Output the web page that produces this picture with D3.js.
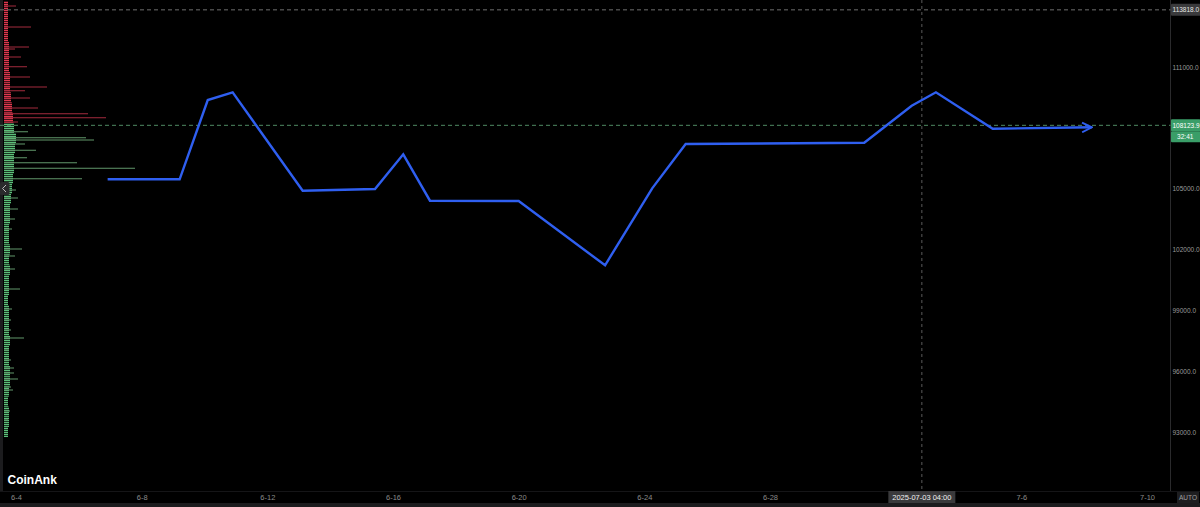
<!DOCTYPE html>
<html>
<head>
<meta charset="utf-8">
<script src="https://cdn.jsdelivr.net/npm/d3@7"></script>
<style>
html,body{margin:0;padding:0;background:#000;}
svg{display:block;}
text{font-family:"Liberation Sans",Arial,sans-serif;}
</style>
</head>
<body>
<svg id="chart" width="1200" height="507"></svg>
<script>
// ---- DATA ----
const lineDates = ["2025-06-06T22:00Z","2025-06-09T05:00Z","2025-06-10T02:30Z","2025-06-10T21:30Z","2025-06-13T03:00Z","2025-06-15T10:15Z","2025-06-16T07:50Z","2025-06-17T04:15Z","2025-06-20T00:00Z","2025-06-22T18:00Z","2025-06-24T06:00Z","2025-06-25T07:35Z","2025-07-01T00:00Z","2025-07-02T12:15Z","2025-07-03T06:45Z","2025-07-05T02:10Z","2025-07-08T05:45Z"];
const lineValues = [105462,105462,109373,109752,104900,104983,106695,104407,104392,101221,105018,107203,107267,109092,109752,107957,108026];

const yTickValues = [93000,96000,99000,102000,105000,111000];
const xTickDates = ["2025-06-04","2025-06-08","2025-06-12","2025-06-16","2025-06-20","2025-06-24","2025-06-28","2025-07-06","2025-07-10"];

const currentPrice = 108123.9;
const countdownLabel = "32:41";
const crosshairPrice = 113818.0;
const crosshairDate = "2025-07-02T20:00Z";
const crosshairLabel = "2025-07-03 04:00";
const brand = "CoinAnk";

// volume profile: notable levels (price, volume units)
const profilePrices = [114008,112972,111986,111887,111493,111015,110507,110014,109831,109471,108978,108697,108500,108288,
  107809,107513,107400,107203,106892,106527,106280,106004,105491,104934,104540,103997,103504,103011,102025,101680,101038,100052,99066,98523,98030,97636,97044,96551,96156,95910,95614,95219,95071,94036,93592];
const profileVolumes = [12,27,25,11,17,23,26,43,21,26,34,84,102,14,
  24,82,90,21,32,23,73,131,78,12,14,14,11,8,18,11,11,16,8,7,7,20,5,7,10,10,14,7,9,6,4];
// dense base profile by 500-USD bins
const basePrices = [93000,93500,94000,94500,95000,95500,96000,96500,97000,97500,98000,98500,99000,99500,100000,100500,101000,101500,102000,102500,103000,103500,104000,104500,105000,105500,106000,106500,107000,107500,108000,108500,109000,109500,110000,110500,111000,111500,112000,112500,113000,113500,114000];
const baseVolumes = [4,5,5,4,5,6,6,5,5,6,5,5,5,4,5,5,6,5,6,5,5,6,6,7,8,9,10,10,11,12,10,9,8,7,6,6,5,5,5,4,4,4,4];

// ---- CHART ----
const svg = d3.select("#chart");
const W = 1200, H = 507;
const plotRight = 1170.5, plotBottom = 491;

svg.append("rect").attr("width",W).attr("height",H).attr("fill","#000");

const x = d3.scaleUtc().domain([new Date("2025-06-04T00:00Z"), new Date("2025-07-10T00:00Z")]).range([16,1147]);
const y = d3.scaleLinear().domain([93000,111000]).range([432,67]);

// stripe pattern for dense profile
const defs = svg.append("defs");
function stripe(id,color){
  const p = defs.append("pattern").attr("id",id).attr("patternUnits","userSpaceOnUse").attr("width",4).attr("height",2);
  p.append("rect").attr("width",4).attr("height",1.3).attr("fill",color);
}
stripe("redStripe","#e0384f");
stripe("greenStripe","#5bbf78");
defs.append("marker").attr("id","arrow").attr("viewBox","0 0 10 10").attr("refX",9).attr("refY",5)
  .attr("markerWidth",5).attr("markerHeight",5).attr("markerUnits","strokeWidth").attr("orient","auto")
  .append("path").attr("d","M1,1 L9,5 L1,9").attr("fill","none").attr("stroke","#2f5ff0").attr("stroke-width",1.6);

// left strip
svg.append("rect").attr("x",0).attr("y",0).attr("width",3).attr("height",plotBottom).attr("fill","#1c1c1e");

// volume profile
const vx = d3.scaleLinear().domain([0,131]).range([4,135]);
const binH = Math.abs(y(500)-y(0));
svg.append("g").selectAll("rect").data(basePrices).join("rect")
  .attr("x",4)
  .attr("y",(d)=>y(d)-binH/2)
  .attr("width",(d,i)=>vx(baseVolumes[i])-4)
  .attr("height",binH)
  .attr("fill",(d)=> d > currentPrice ? "url(#redStripe)" : "url(#greenStripe)");
svg.append("g").selectAll("rect").data(profilePrices).join("rect")
  .attr("x",4)
  .attr("y",(d)=>y(d)-0.6)
  .attr("width",(d,i)=>vx(profileVolumes[i])-4)
  .attr("height",1.2)
  .attr("fill",(d)=> d > currentPrice ? "#a02a3c" : "#5f9468")
  .attr("opacity",0.85);

// vertical separator (price axis)
svg.append("line").attr("x1",plotRight).attr("x2",plotRight).attr("y1",0).attr("y2",plotBottom)
  .attr("stroke","#2a2a2c").attr("stroke-width",1);

// bottom axis band
svg.append("line").attr("x1",0).attr("x2",W).attr("y1",plotBottom+0.5).attr("y2",plotBottom+0.5).attr("stroke","#151517");
svg.append("rect").attr("x",0).attr("y",503).attr("width",W).attr("height",4).attr("fill","#1c1c1e");

// crosshair
svg.append("line").attr("x1",x(new Date(crosshairDate))).attr("x2",x(new Date(crosshairDate)))
  .attr("y1",0).attr("y2",plotBottom).attr("stroke","#5a5a5a").attr("stroke-dasharray","3,3");
svg.append("line").attr("x1",0).attr("x2",plotRight).attr("y1",y(crosshairPrice)).attr("y2",y(crosshairPrice))
  .attr("stroke","#707070").attr("stroke-dasharray","4,3");
// current price line
svg.append("line").attr("x1",0).attr("x2",plotRight).attr("y1",y(currentPrice)).attr("y2",y(currentPrice))
  .attr("stroke","#4f8a62").attr("stroke-dasharray","4,3");

// price line
const pts = lineDates.map((d,i)=>({date:new Date(d), v:lineValues[i]}));
svg.append("path").datum(pts)
  .attr("d", d3.line().x(d=>x(d.date)).y(d=>y(d.v)))
  .attr("fill","none").attr("stroke","#2f5ff0").attr("stroke-width",2.4)
  .attr("stroke-linejoin","miter").attr("marker-end","url(#arrow)");

// y axis
const yAxis = svg.append("g").attr("transform",`translate(${plotRight+1},0)`)
  .call(d3.axisRight(y).tickValues(yTickValues).tickFormat(d3.format(".1f")).tickSize(0).tickPadding(1));
yAxis.select(".domain").remove();
yAxis.selectAll("text").attr("fill","#9a9a9a").attr("font-size","6.5px").attr("font-family","Liberation Sans, Arial, sans-serif");

// x axis
const xAxis = svg.append("g").attr("transform",`translate(0,${plotBottom})`)
  .call(d3.axisBottom(x).tickValues(xTickDates.map(d=>new Date(d+"T00:00Z"))).tickFormat(d3.utcFormat("%-m-%-d")).tickSize(0).tickPadding(4));
xAxis.select(".domain").remove();
xAxis.selectAll("text").attr("fill","#8a8a8a").attr("font-size","7.5px").attr("font-family","Liberation Sans, Arial, sans-serif");

// right-axis label boxes
function priceBox(yc,h,fill,label,color,anchorMid){
  svg.append("rect").attr("x",plotRight+0.5).attr("y",yc-h/2).attr("width",W-plotRight).attr("height",h).attr("rx",1).attr("fill",fill);
  svg.append("text").attr("x",anchorMid? (plotRight+W)/2 : plotRight+2).attr("y",yc).attr("dy","0.35em")
    .attr("text-anchor",anchorMid?"middle":"start").attr("fill",color).attr("font-size","6.5px").text(label);
}
priceBox(y(crosshairPrice),12,"#3a3a3c",d3.format(".1f")(crosshairPrice),"#e6e6e6",false);
priceBox(y(currentPrice),12,"#3a9e68",d3.format(".1f")(currentPrice),"#ffffff",false);
priceBox(y(currentPrice)+11.5,11,"#3a9e68",countdownLabel,"#ffffff",true);

// crosshair date box
const cx = x(new Date(crosshairDate));
svg.append("rect").attr("x",cx-33.5).attr("y",491).attr("width",67).attr("height",12).attr("fill","#3a3a3c");
svg.append("text").attr("x",cx).attr("y",497).attr("dy","0.35em").attr("text-anchor","middle")
  .attr("fill","#f0f0f0").attr("font-size","7.5px").text(crosshairLabel);

// AUTO
svg.append("rect").attr("x",1177).attr("y",492).attr("width",22).attr("height",11).attr("fill","#1e1e20");
svg.append("text").attr("x",1188).attr("y",497.5).attr("dy","0.35em").attr("text-anchor","middle")
  .attr("fill","#a0a0a0").attr("font-size","6.5px").text("AUTO");

// collapse button
svg.append("rect").attr("x",0).attr("y",182).attr("width",9.5).attr("height",13).attr("rx",1.5).attr("fill","#2a2a2c");
svg.append("path").attr("d","M6,185 L2.5,188.5 L6,192").attr("fill","none").attr("stroke","#bbb").attr("stroke-width",1);

// brand
svg.append("text").attr("x",7.5).attr("y",484).attr("fill","#ffffff").attr("font-size","12px")
  .attr("font-weight","bold").text(brand);
</script>
</body>
</html>
